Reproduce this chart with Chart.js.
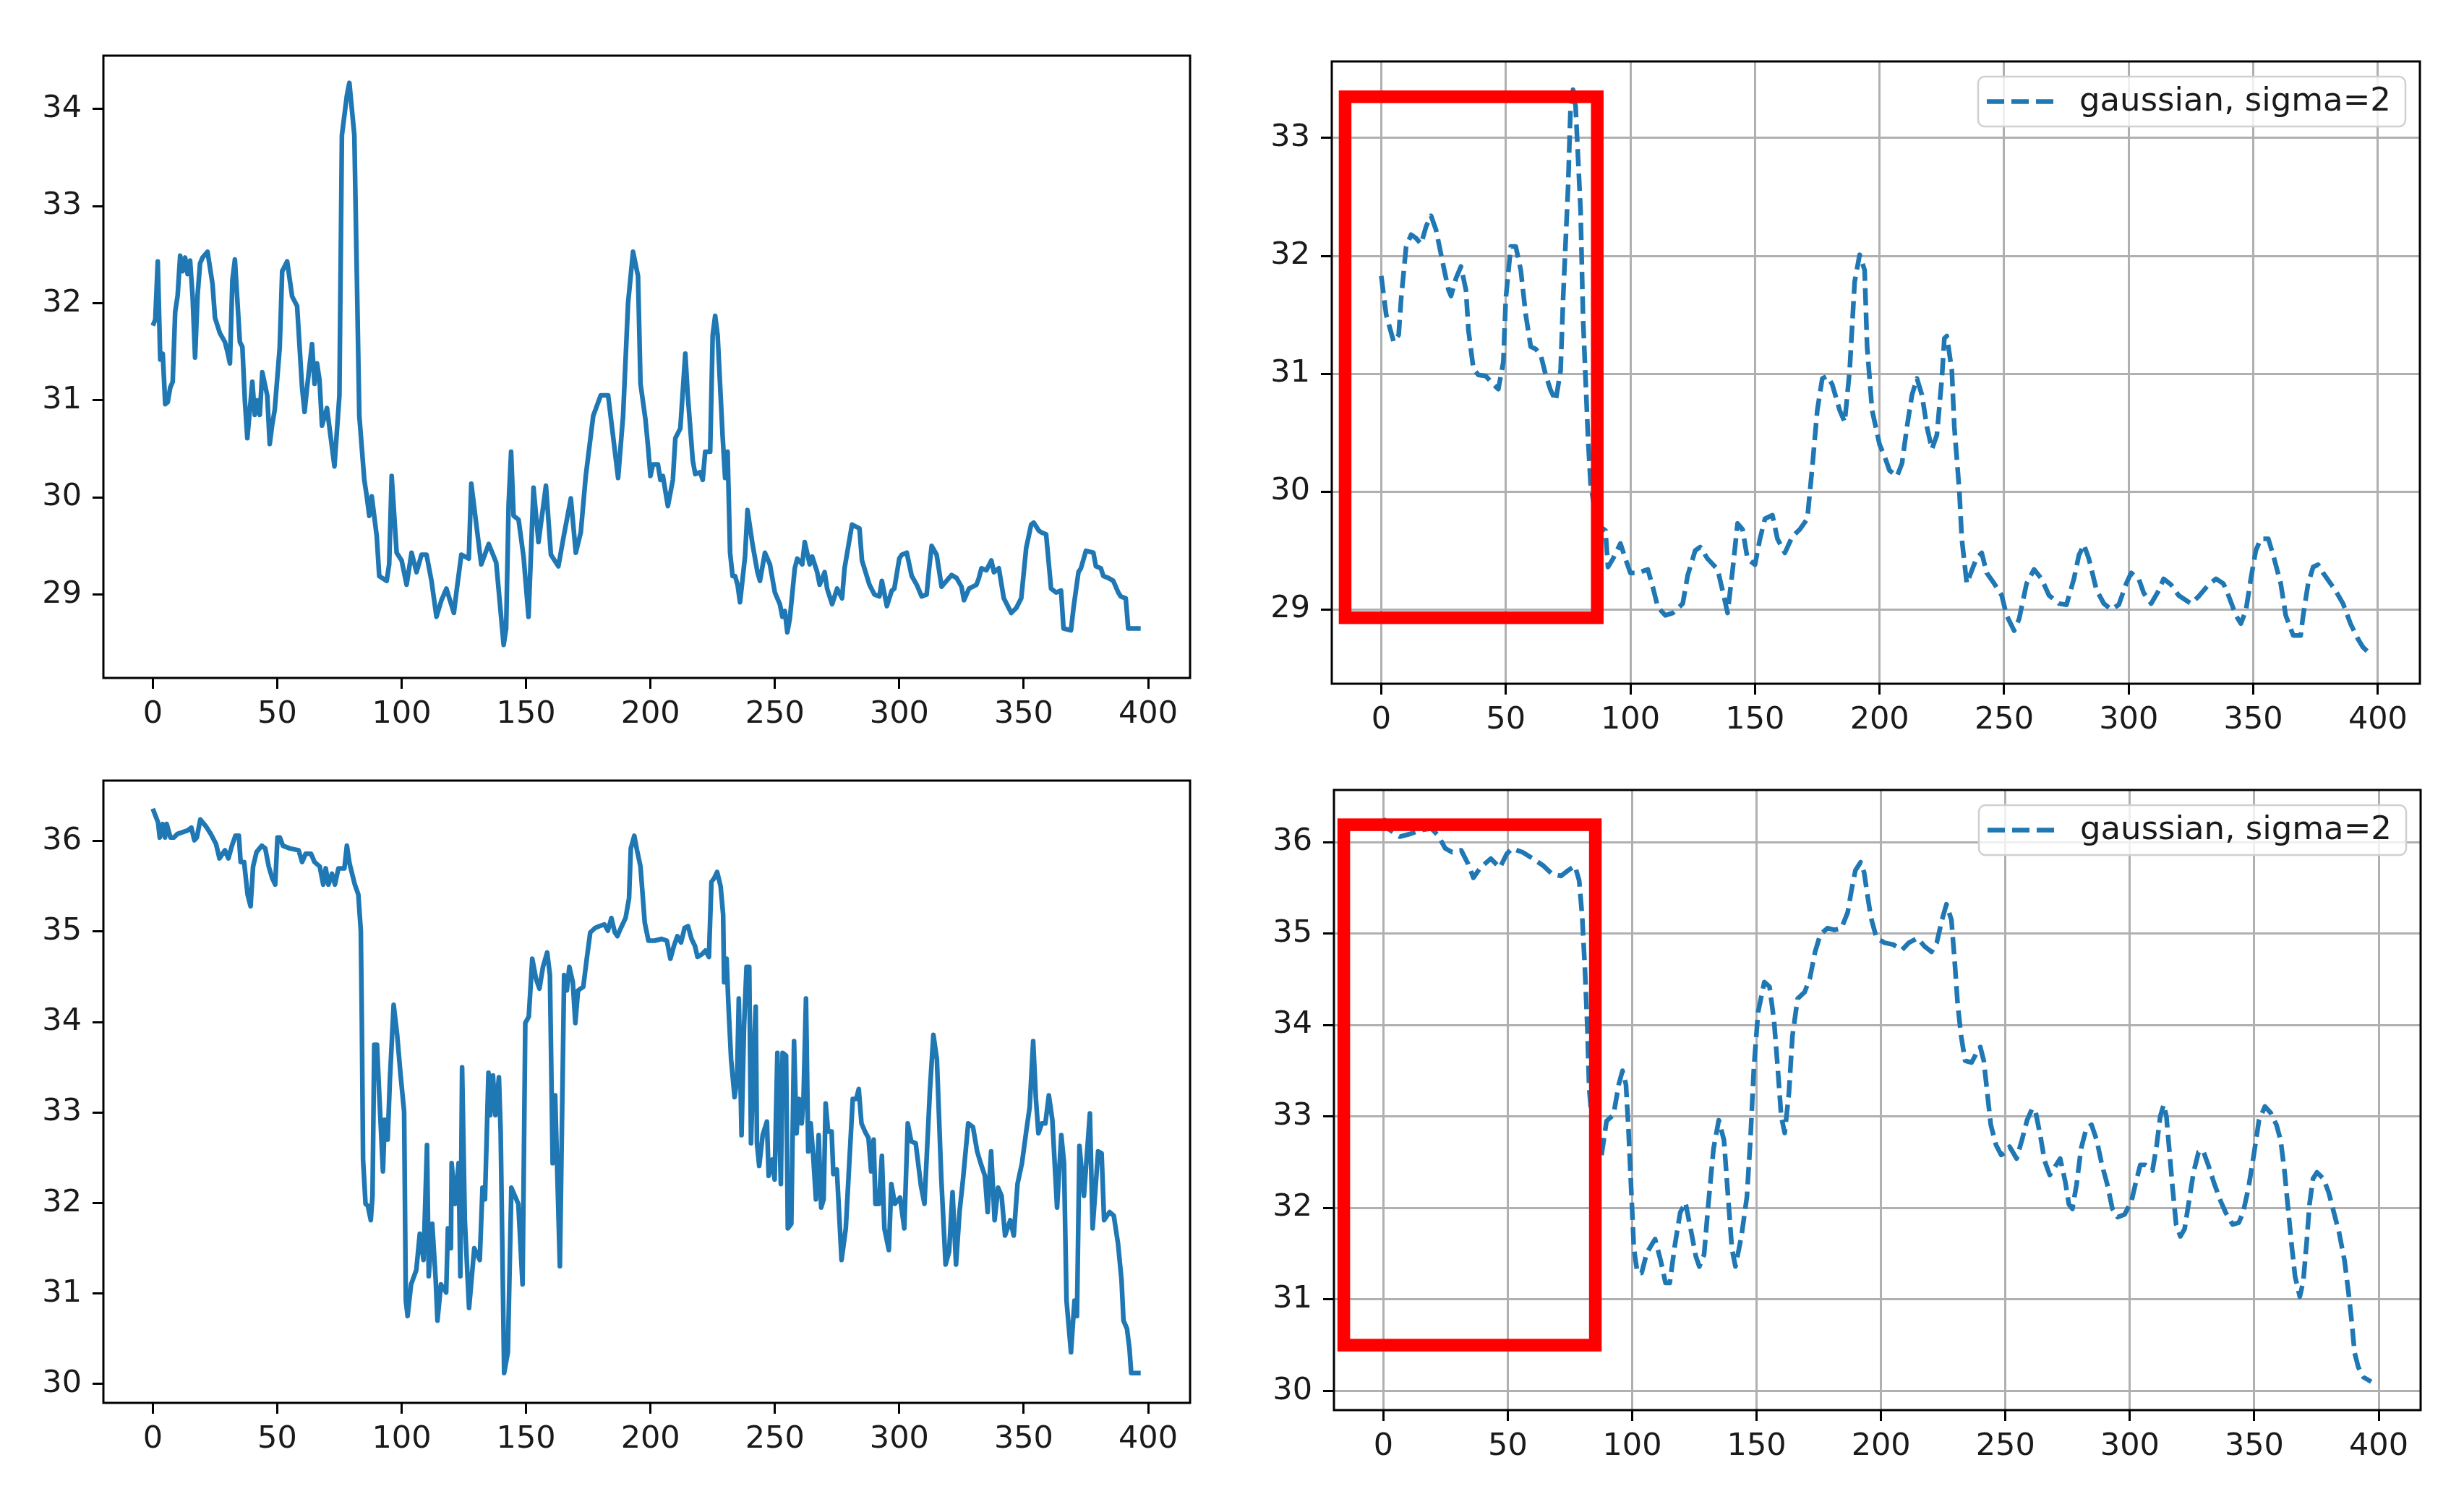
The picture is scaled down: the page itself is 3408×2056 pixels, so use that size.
<!DOCTYPE html>
<html>
<head>
<meta charset="utf-8">
<title>raw vs gaussian smoothing</title>
<script src="https://cdn.jsdelivr.net/npm/chart.js@4.4.1/dist/chart.umd.min.js"></script>
<style>
  html, body { margin: 0; padding: 0; background: #fff; }
  #page { position: relative; width: 3408px; height: 2056px; overflow: hidden; background: #fff; }
  #page canvas { position: absolute; }
</style>
</head>
<body>
<div id="page">
  <canvas id="rawTop"></canvas>
  <canvas id="smoothTop"></canvas>
  <canvas id="rawBottom"></canvas>
  <canvas id="smoothBottom"></canvas>
</div>
<script>
// ---- values ----
const xTicks = [0, 50, 100, 150, 200, 250, 300, 350, 400];
const rawTopTicks = [29, 30, 31, 32, 33, 34];
const smoothTopTicks = [29, 30, 31, 32, 33];
const bottomTicks = [30, 31, 32, 33, 34, 35, 36];
const legendLabel = 'gaussian, sigma=2';

// top-left: raw series 1
const rawTopX = [0, 1, 2, 3, 4, 5, 6, 7, 8, 9, 10, 11, 12, 13, 14, 15, 16, 17, 18, 19, 20, 22, 24, 25, 27, 29, 30, 31, 32, 33,
  35, 36, 37, 38, 40, 41, 42, 43, 44, 46, 47, 48, 49, 51, 52, 54, 56, 58, 60, 61, 62, 64, 65, 66, 67, 68, 70, 73, 75, 76,
  78, 79, 81, 82, 83, 85, 86, 87, 88, 90, 91, 94, 95, 96, 98, 100, 102, 104, 106, 108, 110, 112, 114, 116, 118, 121, 122, 124, 127, 128,
  132, 135, 138, 141, 142, 143, 144, 145, 147, 149, 151, 153, 155, 158, 160, 163, 165, 168, 170, 172, 174, 177, 180, 183, 187, 189, 191, 193, 195, 196,
  198, 199, 200, 201, 203, 204, 205, 207, 209, 210, 212, 214, 215, 217, 218, 220, 221, 222, 224, 225, 226, 227, 229, 230, 231, 232, 233, 234, 235, 236,
  238, 239, 241, 243, 244, 246, 248, 250, 252, 253, 254, 255, 256, 258, 259, 261, 262, 264, 265, 267, 268, 270, 271, 273, 275, 277, 278, 281, 284, 285,
  288, 290, 292, 293, 295, 297, 298, 300, 301, 303, 305, 307, 309, 311, 312, 313, 315, 317, 319, 321, 323, 325, 326, 328, 331, 332, 333, 335, 337, 338,
  340, 342, 345, 347, 349, 351, 353, 354, 356, 357, 359, 361, 363, 365, 366, 369, 370, 372, 373, 375, 378, 379, 381, 382, 384, 386, 388, 389, 391, 392, 397];
const rawTopY = [31.77, 31.83, 32.43, 31.42, 31.48, 30.96, 30.98, 31.13, 31.19, 31.91, 32.08, 32.49, 32.33, 32.47, 32.3, 32.44, 32.07, 31.44, 32.08, 32.41, 32.47, 32.53, 32.2, 31.85, 31.69, 31.6, 31.5, 31.38, 32.24, 32.45,
  31.6, 31.55, 31.0, 30.61, 31.19, 30.85, 31.0, 30.85, 31.29, 31.05, 30.55, 30.75, 30.9, 31.54, 32.33, 32.43, 32.07, 31.97, 31.13, 30.88, 31.13, 31.58, 31.17, 31.38, 31.21, 30.74, 30.92, 30.32, 31.05, 33.73,
  34.14, 34.27, 33.73, 32.29, 30.84, 30.18, 30.01, 29.81, 30.01, 29.6, 29.19, 29.14, 29.31, 30.22, 29.43, 29.35, 29.1, 29.43, 29.23, 29.41, 29.41, 29.14, 28.77, 28.94, 29.06, 28.81, 29.02, 29.41, 29.37, 30.14,
  29.31, 29.52, 29.33, 28.48, 28.65, 29.93, 30.47, 29.81, 29.77, 29.39, 28.77, 30.1, 29.54, 30.12, 29.41, 29.29, 29.58, 29.99, 29.43, 29.64, 30.22, 30.84, 31.05, 31.05, 30.2, 30.84, 32.0, 32.53, 32.28, 31.17,
  30.8, 30.53, 30.22, 30.34, 30.34, 30.18, 30.22, 29.91, 30.18, 30.61, 30.71, 31.48, 31.05, 30.38, 30.24, 30.26, 30.18, 30.47, 30.47, 31.67, 31.87, 31.67, 30.63, 30.2, 30.47, 29.43, 29.19, 29.19, 29.1, 28.92,
  29.39, 29.87, 29.52, 29.23, 29.14, 29.43, 29.31, 29.02, 28.9, 28.77, 28.83, 28.61, 28.75, 29.27, 29.37, 29.31, 29.54, 29.31, 29.39, 29.23, 29.1, 29.23, 29.06, 28.9, 29.06, 28.96, 29.27, 29.72, 29.68, 29.35,
  29.1, 29.0, 28.98, 29.14, 28.88, 29.04, 29.06, 29.37, 29.41, 29.43, 29.19, 29.1, 28.98, 29.0, 29.27, 29.5, 29.41, 29.08, 29.14, 29.2, 29.17, 29.08, 28.94, 29.06, 29.1, 29.17, 29.27, 29.25, 29.35, 29.23,
  29.27, 28.96, 28.81, 28.86, 28.96, 29.48, 29.72, 29.74, 29.66, 29.64, 29.62, 29.06, 29.02, 29.04, 28.65, 28.63, 28.86, 29.23, 29.27, 29.45, 29.43, 29.29, 29.27, 29.19, 29.17, 29.14, 29.02, 28.98, 28.96, 28.65, 28.65];

// top-right: smoothed series 1
const smoothTopX = [0, 2, 5, 7, 8, 10, 12, 14, 16, 18, 20, 22, 25, 27, 28, 30, 32, 34, 35, 37, 39, 42, 45, 47, 49, 50, 52, 54, 56, 58,
  60, 62, 64, 66, 68, 70, 72, 73, 75, 76, 77, 78, 80, 81, 83, 84, 86, 88, 90, 91, 93, 96, 98, 100, 103, 107, 109, 111, 114, 117,
  121, 123, 126, 128, 131, 135, 137, 139, 141, 143, 145, 147, 150, 152, 154, 157, 159, 162, 165, 168, 171, 173, 175, 177, 179, 181, 184, 186, 188, 190,
  192, 194, 195, 197, 200, 202, 204, 207, 209, 211, 213, 215, 217, 219, 221, 223, 225, 226, 227, 229, 230, 232, 233, 235, 237, 239, 241, 243, 246, 249,
  251, 254, 256, 259, 262, 265, 268, 272, 275, 278, 280, 282, 284, 287, 290, 293, 296, 299, 301, 304, 306, 309, 312, 314, 317, 320, 325, 328, 332, 335,
  338, 340, 343, 345, 347, 349, 351, 353, 356, 358, 361, 363, 366, 369, 370, 372, 374, 376, 378, 381, 383, 386, 389, 392, 394, 397];
const smoothTopY = [31.83, 31.5, 31.27, 31.33, 31.64, 32.08, 32.18, 32.15, 32.1, 32.25, 32.34, 32.22, 31.91, 31.71, 31.66, 31.81, 31.91, 31.71, 31.37, 31.04, 30.99, 30.98, 30.91, 30.87, 31.1, 31.64, 32.08, 32.08, 31.88, 31.5,
  31.23, 31.21, 31.16, 30.99, 30.86, 30.77, 31.03, 31.64, 32.59, 33.27, 33.41, 33.27, 32.39, 31.47, 30.45, 30.07, 29.8, 29.7, 29.67, 29.36, 29.43, 29.56, 29.43, 29.31, 29.31, 29.34, 29.19, 29.02, 28.95, 28.97,
  29.05, 29.29, 29.5, 29.53, 29.43, 29.34, 29.16, 28.97, 29.33, 29.73, 29.68, 29.43, 29.38, 29.6, 29.77, 29.8, 29.6, 29.48, 29.62, 29.68, 29.77, 30.21, 30.69, 30.96, 30.98, 30.91, 30.69, 30.59, 31.03, 31.78,
  32.01, 31.88, 31.23, 30.69, 30.4, 30.3, 30.18, 30.13, 30.24, 30.55, 30.82, 30.96, 30.82, 30.55, 30.36, 30.48, 30.96, 31.3, 31.32, 31.03, 30.55, 30.01, 29.6, 29.22, 29.33, 29.44, 29.48, 29.31, 29.22, 29.12,
  28.95, 28.82, 28.92, 29.22, 29.34, 29.26, 29.12, 29.05, 29.04, 29.26, 29.46, 29.55, 29.43, 29.17, 29.05, 29.0, 29.04, 29.22, 29.31, 29.26, 29.14, 29.05, 29.16, 29.26, 29.21, 29.12, 29.05, 29.11, 29.21, 29.26,
  29.22, 29.12, 28.95, 28.88, 28.99, 29.26, 29.5, 29.6, 29.6, 29.46, 29.22, 28.95, 28.78, 28.78, 28.95, 29.22, 29.36, 29.38, 29.31, 29.22, 29.16, 29.05, 28.88, 28.75, 28.68, 28.62];

// bottom-left: raw series 2
const rawBottomX = [0, 1.1, 2.1, 2.8, 4, 4.9, 5.6, 7.1, 8.5, 9.9, 12, 14.1, 15.5, 16.7, 17.7, 19.1, 21.2, 23.3, 25.4, 26.8,
  29, 30.4, 31.8, 33.2, 34.6, 35.3, 36.7, 38.1, 39.3, 40.3, 41.7, 43.8, 45.2, 46.6, 48, 49.2, 50.1, 51.1, 52.3, 55.1,
  58.6, 60, 61.4, 63.6, 65, 67.1, 68.5, 69.5, 70.6, 72, 73.2, 74.6, 77, 78, 79.1, 81.2, 82.6, 83.6, 84, 84.5,
  85.5, 86.4, 87.6, 88.3, 89, 90.1, 91.1, 92.5, 93.2, 94.4, 95.3, 96.8, 98.2, 99.6, 101, 101.7, 102.4, 103.8, 105.9, 107.3,
  108.8, 110.2, 110.9, 112.3, 113.7, 114.4, 115.8, 117.9, 118.6, 119.8, 120.1, 121.5, 122.9, 123.6, 124.3, 125.4, 127.1, 129.2, 131.4, 132.5,
  133.5, 134.9, 135.6, 136.7, 137.7, 139.1, 139.8, 141.2, 142.7, 144.1, 145.5, 146.9, 148.6, 149.7, 151.1, 152.5, 154, 155.4, 156.8, 158.5,
  159.6, 160.7, 161.7, 163.6, 165.3, 166.4, 167.4, 168.8, 169.8, 170.9, 173, 174.4, 175.8, 177.7, 179.4, 181.5, 182.9, 184.3, 185.7, 186.7,
  188.1, 190, 191.4, 192.1, 193.5, 194.6, 196, 197.7, 199.2, 201.7, 204.5, 206.6, 208, 209.4, 210.8, 212.3, 213.7, 215.1, 216.5, 217.9,
  218.9, 220.7, 222.1, 223.5, 224.5, 225.6, 226.8, 228.2, 229.2, 229.6, 230.6, 231.3, 232.4, 233.8, 234.8, 235.5, 236.6, 237.6, 238.6, 239.7,
  240.4, 241.4, 242.3, 242.8, 243.7, 245.1, 246.8, 247.5, 248.9, 249.9, 251, 252.4, 253.1, 254.5, 255.2, 256.6, 257.7, 258.7, 259.7, 260.8,
  261.5, 262.5, 263.4, 264.4, 265.4, 266.5, 267.6, 268.6, 269.6, 270.4, 271.4, 272.8, 273.5, 274.9, 276.8, 278.5, 279.9, 281.3, 282.7, 283.7,
  284.8, 286.2, 287.6, 288.7, 289.7, 290.4, 291.8, 293, 294, 295.8, 296.8, 298.2, 300.3, 302, 303.4, 304.8, 306.6, 308.7, 310.1, 312.3,
  313.7, 315.1, 316.9, 318.6, 320, 321.4, 322.8, 324.2, 325.6, 327.7, 329.6, 331.3, 332.7, 334.4, 335.5, 336.9, 338.3, 339.7, 341.1, 342.5,
  344.6, 346, 347.5, 349.3, 351, 352.4, 353.8, 354.9, 355.9, 357.3, 358.7, 360.1, 361.5, 363.4, 365.1, 366.2, 367.2, 369, 370.4, 371.4,
  372.4, 374.2, 375.6, 376.6, 377.7, 379.9, 381.3, 382.3, 384.5, 386.2, 387.9, 389.3, 390.1, 391.5, 392.5, 393.2, 397];
const rawBottomY = [36.36, 36.28, 36.21, 36.04, 36.19, 36.04, 36.19, 36.04, 36.04, 36.08, 36.1, 36.12, 36.15, 36.01, 36.04, 36.24, 36.17, 36.08, 35.97, 35.81,
  35.9, 35.81, 35.95, 36.06, 36.06, 35.77, 35.77, 35.41, 35.28, 35.72, 35.88, 35.95, 35.92, 35.72, 35.59, 35.52, 36.04, 36.04, 35.95, 35.92,
  35.9, 35.77, 35.86, 35.86, 35.77, 35.72, 35.52, 35.7, 35.52, 35.64, 35.52, 35.7, 35.7, 35.95, 35.75, 35.52, 35.41, 35.01, 34.04, 32.48,
  31.99, 31.97, 31.81, 32.08, 33.75, 33.75, 33.15, 32.35, 32.92, 32.7, 33.37, 34.19, 33.86, 33.41, 33.01, 30.92, 30.75, 31.1, 31.26, 31.66,
  31.37, 32.64, 31.19, 31.77, 31.15, 30.7, 31.1, 31.01, 31.72, 31.5, 32.44, 31.99, 32.44, 31.19, 33.5, 31.81, 30.84, 31.5, 31.37, 32.17,
  32.04, 33.44, 32.97, 33.41, 32.97, 33.39, 32.79, 30.12, 30.35, 32.17, 32.08, 31.99, 31.1, 33.99, 34.06, 34.7, 34.48, 34.37, 34.61, 34.77,
  34.52, 32.44, 33.19, 31.3, 34.52, 34.35, 34.61, 34.44, 33.99, 34.35, 34.39, 34.7, 34.99, 35.04, 35.06, 35.08, 35.01, 35.15, 34.99, 34.95,
  35.04, 35.15, 35.37, 35.92, 36.06, 35.9, 35.72, 35.1, 34.9, 34.9, 34.92, 34.9, 34.7, 34.84, 34.95, 34.88, 35.04, 35.06, 34.92, 34.84,
  34.72, 34.75, 34.79, 34.72, 35.55, 35.59, 35.66, 35.5, 35.19, 34.44, 34.7, 34.21, 33.59, 33.17, 33.37, 34.26, 32.75, 33.95, 34.61, 34.61,
  32.66, 33.59, 34.17, 32.66, 32.41, 32.75, 32.9, 32.3, 32.48, 32.26, 33.66, 32.21, 33.66, 33.63, 31.72, 31.77, 33.79, 32.77, 33.15, 32.88,
  33.15, 34.26, 32.57, 32.88, 32.52, 32.04, 32.75, 31.95, 32.04, 33.1, 32.79, 32.79, 32.32, 32.37, 31.37, 31.72, 32.44, 33.15, 33.15, 33.26,
  32.88, 32.79, 32.72, 32.35, 32.7, 31.99, 31.99, 32.52, 31.72, 31.48, 32.21, 31.99, 32.06, 31.72, 32.88, 32.68, 32.66, 32.19, 31.99, 33.24,
  33.86, 33.59, 32.26, 31.32, 31.46, 32.12, 31.32, 31.9, 32.26, 32.88, 32.84, 32.57, 32.44, 32.3, 31.9, 32.57, 31.81, 32.17, 32.08, 31.64,
  31.81, 31.64, 32.21, 32.44, 32.79, 33.06, 33.79, 33.15, 32.77, 32.88, 32.88, 33.19, 32.92, 31.95, 32.75, 32.44, 30.92, 30.35, 30.92, 30.75,
  32.63, 32.08, 32.61, 32.99, 31.72, 32.57, 32.55, 31.81, 31.9, 31.86, 31.55, 31.15, 30.7, 30.61, 30.39, 30.12, 30.12];

// bottom-right: smoothed series 2
const smoothBottomX = [0, 1.7, 6.6, 10.8, 15.1, 19.3, 22.1, 24.9, 27.7, 31.3, 34.1, 36.2, 39, 43.2, 46.8, 49.6, 51.7, 55.9, 60.1, 64.4,
  67.9, 71.4, 74.2, 77, 78.7, 79.9, 81, 82, 82.7, 84, 86, 87.6, 89.7, 92.5, 94.6, 96.1, 97.5, 98.5, 99.6, 100.7,
  102.1, 103.8, 105.9, 109.2, 111.5, 113.4, 115.1, 117.2, 119.3, 121.4, 123.5, 125.6, 127, 128.9, 130.6, 132.7, 134.8, 136.9, 138.3, 140.1,
  141.5, 143.9, 146.1, 147.5, 148.9, 150.6, 153.1, 155.2, 157, 158.5, 159.9, 161.3, 163, 164.4, 166.5, 169.3, 171.4, 173.5, 175.6, 178.5,
  181.3, 184.1, 186.6, 188.3, 189.7, 191.8, 193.2, 194.6, 196, 198.2, 201.4, 204.9, 208.4, 211.2, 214.7, 217.5, 220.3, 222.4, 224.5, 226.3,
  228.3, 229.7, 230.8, 232.2, 233.8, 236.4, 238.5, 239.9, 241.3, 242.7, 244.1, 246.2, 248.3, 250.1, 251.7, 254.5, 256.6, 258.7, 260.8, 262.2,
  264.1, 265.7, 267.8, 269.9, 272, 274.1, 275.5, 276.9, 278.6, 280.4, 282.5, 284.6, 286.7, 288.8, 290.9, 293, 295.1, 297.9, 300.7, 302.4,
  304.2, 306.3, 309.1, 310.8, 312.2, 313.6, 314.7, 315.8, 317.2, 318.6, 320.3, 322, 323.8, 325.6, 327.6, 329.4, 331.5, 334, 336.4, 338.5,
  341.3, 343.8, 345.5, 347.6, 349.7, 351.9, 354.3, 356.6, 358.9, 360.6, 362.2, 363.6, 365, 366.4, 368.3, 369.7, 371.1, 372.2, 373.6, 375.2,
  377.8, 379.9, 382, 384.1, 386.3, 387.9, 389.3, 390.3, 391.8, 393.9, 397];
const smoothBottomY = [36.26, 36.15, 36.06, 36.09, 36.13, 36.15, 36.07, 35.93, 35.89, 35.91, 35.76, 35.61, 35.72, 35.82, 35.72, 35.87, 35.93, 35.89, 35.82, 35.74,
  35.65, 35.63, 35.69, 35.74, 35.58, 35.19, 34.62, 33.96, 33.31, 32.9, 32.55, 32.56, 32.95, 33.02, 33.35, 33.5, 33.35, 32.87, 32.21, 31.55,
  31.29, 31.29, 31.51, 31.66, 31.42, 31.18, 31.18, 31.6, 31.95, 32.06, 31.77, 31.47, 31.36, 31.49, 32.04, 32.65, 32.96, 32.74, 32.21, 31.55,
  31.36, 31.69, 32.12, 32.74, 33.53, 34.14, 34.47, 34.42, 34.05, 33.53, 33.0, 32.82, 33.26, 33.88, 34.29, 34.36, 34.51, 34.8, 34.99, 35.06,
  35.04, 35.06, 35.23, 35.5, 35.69, 35.78, 35.67, 35.41, 35.17, 34.95, 34.9, 34.88, 34.82, 34.9, 34.95, 34.86, 34.8, 34.9, 35.15, 35.32,
  35.15, 34.66, 34.23, 33.88, 33.61, 33.59, 33.7, 33.76, 33.61, 33.26, 32.91, 32.69, 32.58, 32.61, 32.67, 32.54, 32.74, 32.96, 33.09, 33.04,
  32.78, 32.52, 32.36, 32.45, 32.54, 32.28, 32.04, 31.99, 32.26, 32.65, 32.87, 32.91, 32.74, 32.47, 32.26, 31.99, 31.9, 31.93, 32.08, 32.28,
  32.47, 32.47, 32.41, 32.69, 33.0, 33.13, 33.0, 32.65, 32.21, 31.82, 31.69, 31.77, 32.08, 32.39, 32.61, 32.63, 32.47, 32.26, 32.08, 31.95,
  31.82, 31.84, 31.95, 32.21, 32.56, 32.96, 33.11, 33.04, 32.91, 32.74, 32.39, 31.99, 31.6, 31.25, 31.03, 31.2, 31.64, 32.04, 32.32, 32.39,
  32.32, 32.17, 31.95, 31.73, 31.42, 31.07, 30.72, 30.42, 30.26, 30.15, 30.1];

// highlighted region (data coords): [xFrom, xTo, yFrom, yTo]
const boxTop = [-14.5, 86.7, 28.93, 33.35];
const boxBottom = [-15.9, 85.2, 30.5, 36.19];

// ---- drawing ----
const BLUE = '#1f77b4';
const FONT = 'DejaVu Sans';
const AX_W = 150, AX_H = 110, PAD = 60;

// spines, red highlight box and the in-axes legend
const framePlugin = {
  id: 'frame',
  afterDatasetsDraw(chart, args, opts) {
    const ctx = chart.ctx, a = chart.chartArea, xs = chart.scales.x, ys = chart.scales.y;
    ctx.save();
    if (opts.box) {
      const [x0, x1, y0, y1] = opts.box;
      const l = xs.getPixelForValue(x0), r = xs.getPixelForValue(x1);
      const t = ys.getPixelForValue(y1), b = ys.getPixelForValue(y0);
      ctx.strokeStyle = '#ff0000';
      ctx.lineWidth = 17.5;
      ctx.lineJoin = 'miter';
      ctx.strokeRect(l, t, r - l, b - t);
    }
    if (opts.legend) {
      const ds = chart.data.datasets[0];
      ctx.font = '45px "' + FONT + '"';
      const tw = ctx.measureText(ds.label).width;
      const h = 69, padL = 12, lineLen = 92, gap = 36, padR = 20;
      const w = padL + lineLen + gap + tw + padR;
      const bx = a.right - 20 - w, by = a.top + 21;
      ctx.beginPath();
      ctx.roundRect(bx, by, w, h, 9);
      ctx.fillStyle = 'rgba(255,255,255,0.8)';
      ctx.fill();
      ctx.strokeStyle = '#d0d0d0';
      ctx.lineWidth = 2.5;
      ctx.stroke();
      ctx.beginPath();
      ctx.setLineDash(ds.borderDash);
      ctx.strokeStyle = ds.borderColor;
      ctx.lineWidth = ds.borderWidth;
      ctx.moveTo(bx + padL, by + h / 2);
      ctx.lineTo(bx + padL + lineLen, by + h / 2);
      ctx.stroke();
      ctx.setLineDash([]);
      ctx.fillStyle = '#1a1a1a';
      ctx.textBaseline = 'middle';
      ctx.fillText(ds.label, bx + padL + lineLen + gap, by + h / 2 + 1);
    }
    ctx.restore();
  },
  afterDraw(chart) {
    const ctx = chart.ctx, a = chart.chartArea;
    ctx.save();
    ctx.strokeStyle = '#000';
    ctx.lineWidth = 3;
    ctx.strokeRect(a.left, a.top, a.right - a.left, a.bottom - a.top);
    ctx.restore();
  }
};

function makeChart(spec) {
  const canvas = document.getElementById(spec.id);
  const w = spec.plot.r - spec.plot.l + AX_W + PAD;
  const h = spec.plot.b - spec.plot.t + PAD + AX_H;
  canvas.width = w; canvas.height = h;
  canvas.style.width = w + 'px'; canvas.style.height = h + 'px';
  canvas.style.left = (spec.plot.l - AX_W) + 'px';
  canvas.style.top = (spec.plot.t - PAD) + 'px';

  const tickFont = { family: FONT, size: 43 };
  const grid = {
    display: true,
    drawOnChartArea: spec.grid,
    drawTicks: true,
    tickLength: 15,
    tickWidth: 3,
    tickColor: '#000',
    color: '#b0b0b0',
    lineWidth: 3
  };

  return new Chart(canvas.getContext('2d'), {
    type: 'line',
    data: {
      datasets: [{
        label: spec.label || 'raw',
        data: spec.xs.map((x, i) => ({ x: x, y: spec.ys[i] })),
        borderColor: BLUE,
        borderWidth: 6.5,
        borderDash: spec.dashed ? [24, 10] : [],
        borderJoinStyle: 'round',
        pointRadius: 0,
        fill: false,
        tension: 0
      }]
    },
    options: {
      responsive: false,
      animation: false,
      devicePixelRatio: 1,
      events: [],
      layout: { padding: { top: PAD, right: PAD, left: 0, bottom: 0 } },
      plugins: {
        legend: { display: false },
        tooltip: { enabled: false },
        frame: { box: spec.box, legend: !!spec.label }
      },
      scales: {
        x: {
          type: 'linear',
          min: -19.85,
          max: 416.85,
          afterBuildTicks: s => { s.ticks = xTicks.map(v => ({ value: v })); },
          afterFit: s => { s.height = AX_H; },
          grid: grid,
          border: { display: false },
          ticks: { font: tickFont, color: '#1a1a1a', padding: 10, maxRotation: 0, autoSkip: false }
        },
        y: {
          min: spec.yMin,
          max: spec.yMax,
          afterBuildTicks: s => { s.ticks = spec.yTicks.map(v => ({ value: v })); },
          afterFit: s => { s.width = AX_W; },
          grid: grid,
          border: { display: false },
          ticks: { font: tickFont, color: '#1a1a1a', padding: 15, autoSkip: false }
        }
      }
    },
    plugins: [framePlugin]
  });
}

makeChart({ id: 'rawTop', plot: { l: 143, t: 77, r: 1646, b: 938 }, xs: rawTopX, ys: rawTopY,
  yMin: 28.14, yMax: 34.55, yTicks: rawTopTicks, grid: false, dashed: false });
makeChart({ id: 'smoothTop', plot: { l: 1842, t: 85, r: 3347, b: 946 }, xs: smoothTopX, ys: smoothTopY,
  yMin: 28.37, yMax: 33.65, yTicks: smoothTopTicks, grid: true, dashed: true, label: legendLabel, box: boxTop });
makeChart({ id: 'rawBottom', plot: { l: 143, t: 1080, r: 1646, b: 1941 }, xs: rawBottomX, ys: rawBottomY,
  yMin: 29.79, yMax: 36.67, yTicks: bottomTicks, grid: false, dashed: false });
makeChart({ id: 'smoothBottom', plot: { l: 1845, t: 1093, r: 3348, b: 1951 }, xs: smoothBottomX, ys: smoothBottomY,
  yMin: 29.79, yMax: 36.57, yTicks: bottomTicks, grid: true, dashed: true, label: legendLabel, box: boxBottom });
</script>
</body>
</html>
